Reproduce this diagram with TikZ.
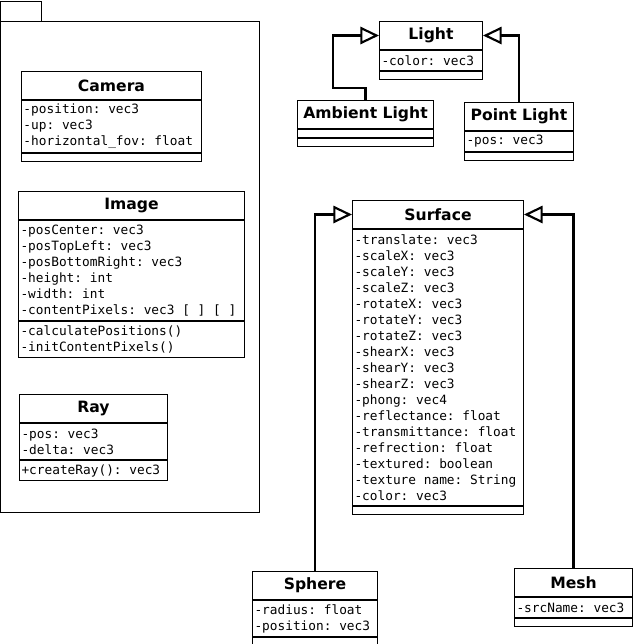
\documentclass[tikz,border=0pt]{standalone}
\usepackage{fontspec}
\setsansfont{DejaVu Sans}
\setmonofont{DejaVu Sans Mono}[WordSpace = {1,0,0}, PunctuationSpace = WordSpace]
\usetikzlibrary{arrows.meta, positioning}

\begin{document}
\frenchspacing
\begin{tikzpicture}[
      x = 0.75pt, y = -0.75pt, % pixel grid, y runs downwards
      line width = 0.75pt, % thin box lines
      classname/.style = {draw, anchor = north west, minimum width = #1,
        minimum height = 21pt, inner sep = 1.5pt,
        font = \sffamily\bfseries\fontsize{11.7}{14}\selectfont},
      members/.style = {draw, align = flush left, inner sep = 1.5pt,
        minimum height = {12pt*#1+3pt},
        font = \ttfamily\fontsize{9.6}{12}\selectfont},
      nomembers/.style = {draw, minimum width = #1, minimum height = 6pt,
        inner sep = 0pt},
      generalize/.style = {line width = 1.6pt,
        -{Triangle[open, length = 14pt, width = 13pt]}}, % open triangle head
    ]

    \useasboundingbox (0,0) rectangle (634,644);

    % package frame
    \draw (0.5,1) rectangle (41,21);
    \draw (0.5,21) rectangle (259,512);

    % Camera
    \node[classname = 135pt] (camera) [at={(21,71)}] {Camera};
    \node[members = 3, text width = 132pt, below = 0pt of camera] (camera-attr)
      {-position: vec3\\-up: vec3\\-horizontal\_fov: float};
    \node[nomembers = 135pt, below = 0pt of camera-attr] (camera-ops) {};

    % Image
    \node[classname = 169.5pt] (image) [at={(18,191)}] {Image};
    \node[members = 6, text width = 166.5pt, below = 0pt of image] (image-attr)
      {-posCenter: vec3\\-posTopLeft: vec3\\-posBottomRight: vec3\\-height: int\\
       -width: int\\-contentPixels: vec3 [ ] [ ]};
    \node[members = 2, text width = 166.5pt, below = 0pt of image-attr] (image-ops)
      {-calculatePositions()\\-initContentPixels()};

    % Ray
    \node[classname = 111pt] (ray) [at={(19,394)}] {Ray};
    \node[members = 2, text width = 108pt, below = 0pt of ray] (ray-attr)
      {-pos: vec3\\-delta: vec3};
    \node[members = 1, text width = 108pt, below = 0pt of ray-attr] (ray-ops)
      {+createRay(): vec3};

    % Light
    \node[classname = 77.25pt] (light) [at={(379,21)}] {Light};
    \node[members = 1, text width = 74.25pt, below = 0pt of light] (light-attr)
      {-color: vec3};
    \node[nomembers = 77.25pt, below = 0pt of light-attr] (light-ops) {};

    % Ambient Light
    \node[classname = 102pt] (ambient) [at={(297,100)}] {Ambient Light};
    \node[nomembers = 102pt, below = 0pt of ambient] (ambient-attr) {};
    \node[nomembers = 102pt, below = 0pt of ambient-attr] (ambient-ops) {};

    % Point Light
    \node[classname = 81.75pt] (point) [at={(464,102)}] {Point Light};
    \node[members = 1, text width = 78.75pt, below = 0pt of point] (point-attr)
      {-pos: vec3};
    \node[nomembers = 81.75pt, below = 0pt of point-attr] (point-ops) {};

    % Surface
    \node[classname = 128.25pt] (surface) [at={(352,200)}] {Surface};
    \node[members = 17, text width = 125.25pt, below = 0pt of surface] (surface-attr)
      {-translate: vec3\\-scaleX: vec3\\-scaleY: vec3\\-scaleZ: vec3\\
       -rotateX: vec3\\-rotateY: vec3\\-rotateZ: vec3\\-shearX: vec3\\
       -shearY: vec3\\-shearZ: vec3\\-phong: vec4\\-reflectance: float\\
       -transmittance: float\\-refrection: float\\-textured: boolean\\
       -texture name: String\\-color: vec3};
    \node[nomembers = 128.25pt, below = 0pt of surface-attr] (surface-ops) {};

    % Sphere
    \node[classname = 93.75pt] (sphere) [at={(252,571)}] {Sphere};
    \node[members = 2, text width = 90.75pt, below = 0pt of sphere] (sphere-attr)
      {-radius: float\\-position: vec3};
    \node[nomembers = 93.75pt, below = 0pt of sphere-attr] (sphere-ops) {};

    % Mesh
    \node[classname = 88.5pt] (mesh) [at={(514,568)}] {Mesh};
    \node[members = 1, text width = 85.5pt, below = 0pt of mesh] (mesh-attr)
      {-srcName: vec3};
    \node[nomembers = 88.5pt, below = 0pt of mesh-attr] (mesh-ops) {};

    % inheritance
    \draw[generalize] (ambient.north) -- ++(0,-12) -| ([shift={(-46,0)}]light.west)
      -- (light.west);
    \draw[generalize] (point.north) |- (light.east);
    \draw[generalize] (sphere.north) |- (surface.west);
    \draw[generalize] (mesh.north) |- (surface.east);

  \end{tikzpicture}
\end{document}
